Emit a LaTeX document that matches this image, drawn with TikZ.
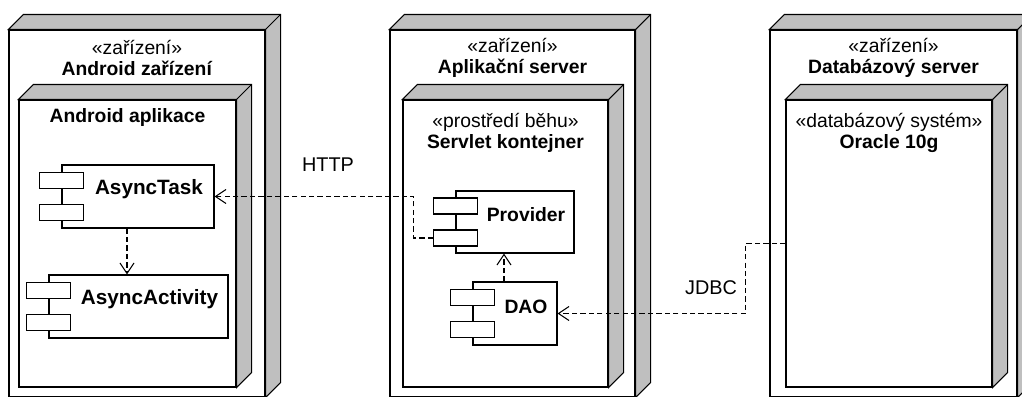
\documentclass[tikz,border=0pt]{standalone}
\usepackage{fontspec}
\setmainfont{Liberation Sans}
\usetikzlibrary{positioning,fit,arrows.meta}

\tikzset{
  box/.style={draw, fill=white, inner sep=0pt},
  face/.style={draw, fill=black!25},
  comp/.style={draw, fill=white, inner sep=0pt, font=\bfseries\fontsize{11}{13}\selectfont,
    execute at begin node=\hspace*{0.44cm}},
  bigcomp/.style={comp, font=\bfseries\fontsize{11.8}{13}\selectfont},
  port/.style={draw, fill=white, minimum width=0.88cm, minimum height=0.32cm, inner sep=0pt},
  title/.style={align=center, font=\fontsize{11}{11.9}\selectfont},
  lbl/.style={font=\fontsize{11.3}{13}\selectfont},
  dep/.style={dash pattern=on 3pt off 1.8pt, -{Straight Barb[length=6pt,width=8pt]}},
}
% gray top and right side of a 3D box
\newcommand{\depthface}[1]{%
  \filldraw[face] (#1.north west) -- ++(15,-15) -- ([shift={(15,-15)}]#1.north east)
    -- ([shift={(15,-15)}]#1.south east) -- (#1.south east) -- (#1.north east) -- cycle;
  \draw (#1.north east) -- ++(15,-15);}

\begin{document}
\begin{tikzpicture}[x=0.02cm, y=-0.02cm, line width=0.6pt]
    \useasboundingbox (0,0) rectangle (1022,396);
    \clip (0,0) rectangle (1022,396);

    % devices
    \node[box, fit={(9,30) (265,397)}]   (dev1) {}; \depthface{dev1}
    \node[box, fit={(390,30) (635,397)}] (dev2) {}; \depthface{dev2}
    \node[box, fit={(770,30) (1017,397)}] (dev3) {}; \depthface{dev3}
    \node[title] (dev1-t) at (137,58)   {«zařízení»\\\textbf{Android zařízení}};
    \node[title] (dev2-t) at (512.5,58) {«zařízení»\\\textbf{Aplikační server}};
    \node[title] (dev3-t) at (893.5,58) {«zařízení»\\\textbf{Databázový server}};

    % execution environments
    \node[box, fit={(19,100) (236,387)}]  (app)  {}; \depthface{app}
    \node[box, fit={(403,100) (608,387)}] (cont) {}; \depthface{cont}
    \node[box, fit={(786,100) (992,387)}] (db)   {}; \depthface{db}
    \node[title] (app-t)  at (127.5,118) {\textbf{Android aplikace}};
    \node[title] (cont-t) at (505.5,133) {«prostředí běhu»\\\textbf{Servlet kontejner}};
    \node[title] (db-t)   at (889,133)   {«databázový systém»\\\textbf{Oracle 10g}};

    % components
    \node[bigcomp, fit={(62,165) (214,228)}] (task) {AsyncTask};
    \node[port] (task-p1) at ([shift={(0,-16)}]task.west) {};
    \node[port] (task-p2) at ([shift={(0,16)}]task.west)  {};
    \node[bigcomp, fit={(49,275) (228,338)}] (act)  {AsyncActivity};
    \node[port] (act-p1) at ([shift={(0,-16)}]act.west) {};
    \node[port] (act-p2) at ([shift={(0,16)}]act.west)  {};
    \node[comp, fit={(456,191) (574,253)}] (prov) {Provider};
    \node[port] (prov-p1) at ([shift={(0,-16)}]prov.west) {};
    \node[port] (prov-p2) at ([shift={(0,16)}]prov.west)  {};
    \node[comp, fit={(473,282) (557,345)}] (dao)  {DAO};
    \node[port] (dao-p1) at ([shift={(0,-16)}]dao.west) {};
    \node[port] (dao-p2) at ([shift={(0,16)}]dao.west)  {};

    % dependencies
    \draw[dep] ([xshift=-0.22cm]task.south) -- ([xshift=-0.22cm]task.south |- act.north);
    \draw[dep] ([xshift=-0.22cm]dao.north) -- ([xshift=-0.22cm]dao.north |- prov.south);
    \draw[dep] (prov-p2.west) -- ++(-19,0) |- (task.east);
    \draw[dep] (db.west) -- ++(-40,0) |- (dao.east);
    \node[lbl] (http) at (328,165) {HTTP};
    \node[lbl] (jdbc) at (711,288) {JDBC};
\end{tikzpicture}
\end{document}
